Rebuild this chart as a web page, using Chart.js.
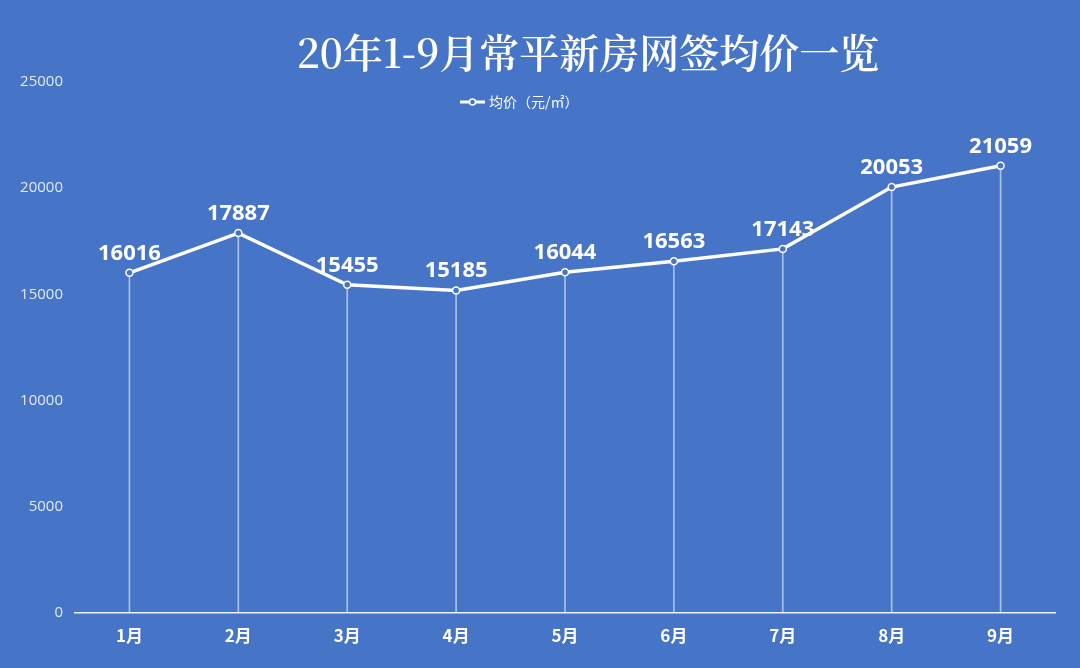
<!DOCTYPE html>
<html>
<head>
<meta charset="utf-8">
<script src="https://cdn.jsdelivr.net/npm/chart.js@4/dist/chart.umd.min.js"></script>
<style>
    html, body { margin: 0; padding: 0; background: #4674c6; }
    #wrap { width: 1080px; height: 668px; position: relative; }
</style>
</head>
<body>
<div id="wrap"><canvas id="price-chart" width="1080" height="668"></canvas></div>
<script>
// chart data
const titleText = '20年1-9月常平新房网签均价一览';
const seriesName = '均价（元/㎡）';
const months = ['1月', '2月', '3月', '4月', '5月', '6月', '7月', '8月', '9月'];
const avgPrice = [16016, 17887, 15455, 15185, 16044, 16563, 17143, 20053, 21059];
const yTicks = [0, 5000, 10000, 15000, 20000, 25000];

const BG = '#4674c6';

// title, legend and value labels drawn on the canvas
const decorPlugin = {
    id: 'decor',
    beforeDraw(chart) {
        const ctx = chart.ctx;
        ctx.save();
        ctx.fillStyle = BG;
        ctx.fillRect(0, 0, chart.width, chart.height);
        ctx.restore();
    },
    afterDatasetsDraw(chart) {
        const ctx = chart.ctx;
        ctx.save();

        // title
        ctx.fillStyle = '#ffffff';
        ctx.font = '600 40px "Noto Serif CJK SC", "Noto Sans CJK SC", serif';
        ctx.textAlign = 'center';
        ctx.textBaseline = 'middle';
        ctx.fillText(titleText, 588, 53);

        // legend
        const lx = 460, ly = 102;
        ctx.strokeStyle = '#ffffff';
        ctx.lineWidth = 3;
        ctx.beginPath();
        ctx.moveTo(lx, ly);
        ctx.lineTo(lx + 25, ly);
        ctx.stroke();
        ctx.beginPath();
        ctx.arc(lx + 12.5, ly, 3, 0, Math.PI * 2);
        ctx.fillStyle = BG;
        ctx.fill();
        ctx.lineWidth = 1.5;
        ctx.stroke();
        ctx.fillStyle = '#ffffff';
        ctx.font = '14px "Noto Sans CJK SC", sans-serif';
        ctx.textAlign = 'left';
        ctx.fillText(seriesName, lx + 29, ly);

        // value labels
        const meta = chart.getDatasetMeta(1);
        ctx.font = 'bold 22px "Open Sans", "Noto Sans", sans-serif';
        ctx.textAlign = 'center';
        ctx.textBaseline = 'alphabetic';
        meta.data.forEach((pt, i) => {
            ctx.fillText(String(avgPrice[i]), pt.x, pt.y - 13);
        });
        ctx.restore();
    }
};

const ctx = document.getElementById('price-chart').getContext('2d');
new Chart(ctx, {
    data: {
        labels: months,
        datasets: [{
            type: 'bar',
            label: 'drop',
            data: avgPrice,
            backgroundColor: 'rgba(255, 255, 255, 0.55)',
            barThickness: 1,
            order: 2
        }, {
            type: 'line',
            label: seriesName,
            data: avgPrice,
            borderColor: '#ffffff',
            borderWidth: 3.5,
            pointRadius: 3.5,
            pointBackgroundColor: BG,
            pointBorderColor: '#ffffff',
            pointBorderWidth: 1.5,
            tension: 0,
            order: 1
        }]
    },
    options: {
        responsive: false,
        animation: false,
        layout: {
            padding: { top: 82, right: 25, bottom: 0, left: 0 }
        },
        plugins: {
            legend: { display: false },
            title: { display: false },
            tooltip: { enabled: false }
        },
        scales: {
            x: {
                grid: { display: false, drawTicks: false },
                border: { display: true, color: 'rgba(255, 255, 255, 0.9)', width: 1.5 },
                ticks: {
                    color: '#ffffff',
                    font: { family: '"Noto Sans CJK SC", sans-serif', size: 17, weight: 'bold' },
                    padding: 12
                },
                afterFit(scale) {
                    scale.height = 55;
                }
            },
            y: {
                min: 0,
                max: 25000,
                afterBuildTicks(scale) {
                    scale.ticks = yTicks.map(v => ({ value: v }));
                },
                grid: { display: false, drawTicks: false },
                border: { display: false },
                ticks: {
                    color: '#e3e9f6',
                    font: { family: '"Open Sans", sans-serif', size: 15 },
                    padding: 12,
                    callback: function(value) {
                        return String(value);
                    }
                },
                afterFit(scale) {
                    scale.width = 75;
                }
            }
        }
    },
    plugins: [decorPlugin]
});
</script>
</body>
</html>
